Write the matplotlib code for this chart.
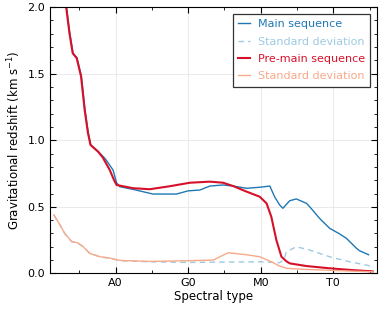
#[Gravitational redshift vs spectral type].
import matplotlib
matplotlib.use('Agg')
import matplotlib.pyplot as plt
from matplotlib.ticker import MultipleLocator, FixedLocator, FixedFormatter

#[Data; spectral type as number: A0=20, G0=40, M0=60, T0=80].
ms_x = [3, 5, 6.5, 7.4, 8.3, 9.4, 10.6, 11.6, 12.5, 13.2, 15.3, 17.2, 19.3, 20.3,
        21.2, 25, 30.3, 36.8, 40, 43.2, 46, 49.6, 52.4, 56.1, 59.7, 62.5, 63.8,
        65.2, 66.1, 67.1, 68, 69.8, 72.6, 73.5, 76.2, 79.0, 81.5, 83.6, 86.3,
        87.2, 89.7]
ms_y = [2.65, 2.25, 2.0, 1.806, 1.654, 1.617, 1.48, 1.227, 1.055, 0.965, 0.914,
        0.86, 0.777, 0.68, 0.651, 0.63, 0.596, 0.596, 0.62, 0.626, 0.656, 0.664,
        0.656, 0.639, 0.647, 0.656, 0.576, 0.514, 0.489, 0.52, 0.546, 0.559,
        0.526, 0.50, 0.413, 0.338, 0.30, 0.263, 0.19, 0.17, 0.14]

ms_sd_x = [3.0, 4.7, 6.0, 7.9, 9.7, 11.1, 12.9, 15.7, 18.4, 21.2, 29.4, 40, 50,
           60, 65.2, 66.3, 67.1, 69.8, 73.5, 79.5, 84.5, 90.4]
ms_sd_y = [0.438, 0.363, 0.30, 0.238, 0.226, 0.20, 0.15, 0.125, 0.113, 0.095,
           0.087, 0.082, 0.085, 0.087, 0.08, 0.10, 0.163, 0.20, 0.175, 0.12,
           0.087, 0.055]

pms_x = [3, 5, 6.4, 7.3, 8.2, 9.3, 10.5, 11.5, 12.4, 13.1, 15.2, 16.5, 18.4,
         19.6, 20.3, 24.8, 29.4, 35, 40.5, 46, 49.6, 52.4, 56.1, 59.7, 61.6,
         62.9, 64.3, 65.7, 67.1, 68, 72.6, 79, 85, 90.8]
pms_y = [2.65, 2.25, 2.0, 1.806, 1.654, 1.617, 1.48, 1.227, 1.055, 0.965, 0.914,
         0.87, 0.777, 0.70, 0.664, 0.64, 0.632, 0.655, 0.681, 0.689, 0.681,
         0.656, 0.614, 0.576, 0.526, 0.426, 0.25, 0.125, 0.09, 0.075, 0.055,
         0.038, 0.025, 0.015]

pms_sd_x = [3.0, 4.7, 6.0, 7.9, 9.7, 11.1, 12.9, 15.7, 18.4, 21.2, 29.4, 40,
            46.9, 51, 56, 59.7, 62.9, 65.2, 67.1, 72, 77.1, 84, 90.8]
pms_sd_y = [0.44, 0.365, 0.30, 0.24, 0.228, 0.20, 0.15, 0.125, 0.115, 0.097,
            0.09, 0.095, 0.10, 0.155, 0.14, 0.125, 0.087, 0.055, 0.038, 0.03,
            0.025, 0.018, 0.012]

tick_pos = [20, 40, 60, 80]
tick_lab = ['A0', 'G0', 'M0', 'T0']

#[Colors].
c_ms = '#1f78b4'
c_ms_sd = '#9ecae1'
c_pms = '#d7102a'
c_pms_sd = '#f8a98a'

plt.rcParams['font.size'] = 8
plt.rcParams['font.family'] = 'DejaVu Sans'

fig = plt.figure(figsize=(3.89, 3.11), dpi=100)
ax = fig.add_axes([0.129, 0.121, 0.84, 0.856])

ax.plot(ms_x, ms_y, color=c_ms, lw=1.0, label='Main sequence')
ax.plot(ms_sd_x, ms_sd_y, color=c_ms_sd, lw=1.0, ls=(0, (4, 3)),
        label='Standard deviation')
ax.plot(pms_x, pms_y, color=c_pms, lw=1.5, label='Pre-main sequence')
ax.plot(pms_sd_x, pms_sd_y, color=c_pms_sd, lw=1.0, label='Standard deviation')

ax.set_xlim(2, 92)
ax.set_ylim(0, 2.0)

ax.xaxis.set_major_locator(FixedLocator(tick_pos))
ax.xaxis.set_major_formatter(FixedFormatter(tick_lab))
ax.xaxis.set_minor_locator(MultipleLocator(10))
ax.yaxis.set_major_locator(MultipleLocator(0.5))
ax.yaxis.set_minor_locator(MultipleLocator(0.1))
ax.tick_params(which='both', direction='in', top=True, right=True)
ax.tick_params(which='major', length=4.5, width=0.8)
ax.tick_params(which='minor', length=2.5, width=0.6)
ax.grid(True, which='major', color='#e6e6e6', lw=0.6)
ax.set_axisbelow(True)

ax.set_xlabel('Spectral type', fontsize=8.5, labelpad=1)
ax.set_ylabel('Gravitational redshift (km s$^{-1}$)', fontsize=8.5, labelpad=3)

leg = ax.legend(loc='upper right', fontsize=8, handlelength=1.1,
                handletextpad=0.65, labelspacing=0.65, borderpad=0.5,
                borderaxespad=0.6, fancybox=False, edgecolor='#333333',
                framealpha=1, labelcolor='linecolor')
leg.get_frame().set_linewidth(0.9)

fig.savefig('out.png', dpi=100)
